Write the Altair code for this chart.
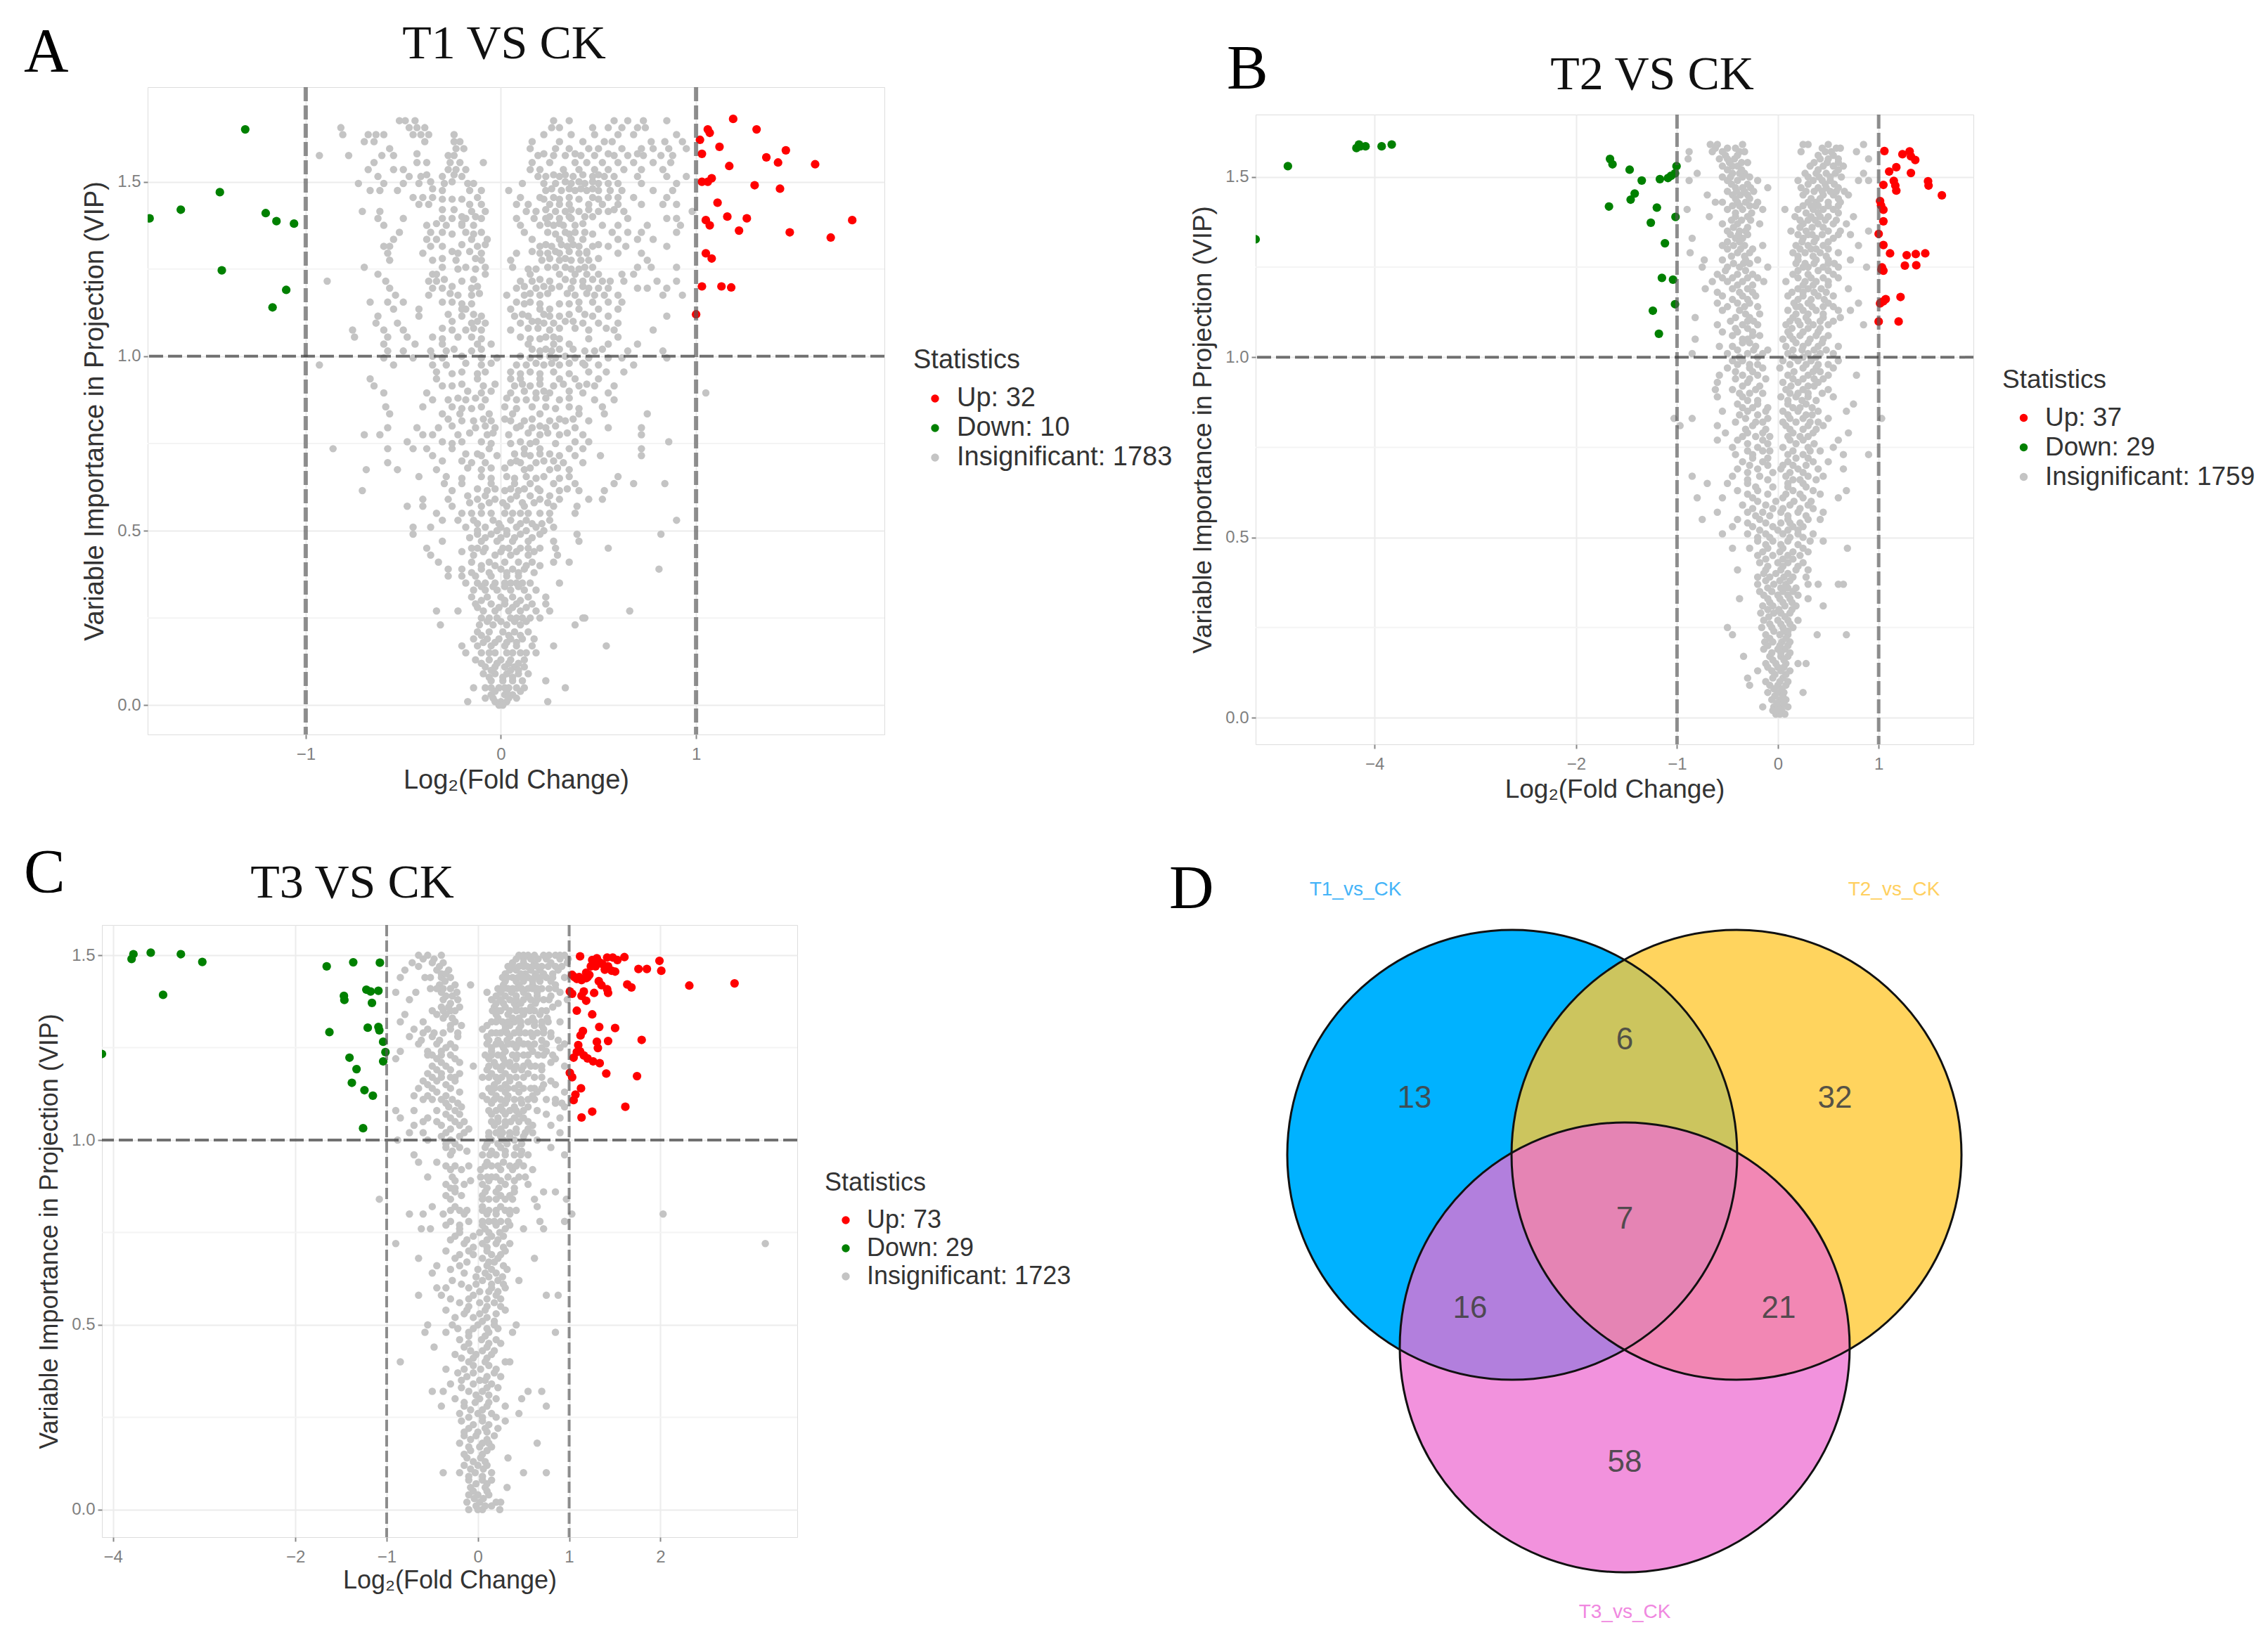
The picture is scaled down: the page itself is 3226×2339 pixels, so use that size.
import altair as alt
import pandas as pd

alt.data_transformers.disable_max_rows()

# ---------- Panel A ----------
up_a = [(1.19,1.68),(1.31,1.65),(1.02,1.62),(1.06,1.65),(1.07,1.64),(1.12,1.60),(1.46,1.59),(1.03,1.58),(1.36,1.57),(1.42,1.555),(1.61,1.55),(1.17,1.545),(1.08,1.51),(1.06,1.50),(1.03,1.50),(1.30,1.49),(1.43,1.48),(1.11,1.44),(1.16,1.40),(1.26,1.395),(1.05,1.39),(1.07,1.375),(1.80,1.39),(1.22,1.36),(1.48,1.355),(1.69,1.34),(1.05,1.295),(1.08,1.28),(1.03,1.20),(1.13,1.20),(1.18,1.197),(1.00,1.12)]
down_a = [(-1.31,1.65),(-1.44,1.47),(-1.64,1.42),(-1.80,1.395),(-1.205,1.41),(-1.15,1.387),(-1.06,1.38),(-1.43,1.246),(-1.10,1.19),(-1.17,1.14)]
gray_a = {
1.675:[-.52,-.49,-.44,.27,.35,.58,.65,.73,.85],
1.655:[-.82,-.47,-.43,-.39,.26,.3,.47,.55,.62,.7,.74],
1.635:[-.81,-.68,-.64,-.6,-.45,-.41,-.37,-.24,.22,.36,.48,.6,.68,.9],
1.615:[-.7,-.65,-.39,-.24,-.21,.16,.3,.42,.53,.57,.77,.84,.93],
1.595:[-.57,-.23,-.19,.15,.28,.35,.45,.5,.62,.72,.78,.86,.95],
1.575:[-.93,-.78,-.61,-.55,-.27,-.24,.19,.27,.33,.41,.48,.58,.65,.73,.82,.88],
1.555:[-.65,-.43,-.38,-.26,-.21,-.09,.16,.25,.38,.44,.52,.6,.68,.78,.87],
1.535:[-.68,-.55,-.5,-.27,-.23,-.18,.15,.2,.32,.4,.48,.55,.63,.72,.83],
1.515:[-.63,-.47,-.41,-.3,-.2,.19,.23,.3,.37,.47,.53,.58,.7,.85,.95],
1.495:[-.73,-.6,-.5,-.42,-.29,-.17,-.14,.11,.22,.28,.36,.43,.5,.55,.6,.72,.9],
1.475:[-.67,-.62,-.53,-.3,-.16,-.1,.04,.23,.31,.38,.44,.5,.56,.62,.78,.88],
1.455:[-.45,-.4,-.35,-.12,.1,.2,.27,.35,.47,.55,.6,.68,.85],
1.435:[-.42,-.37,-.16,-.1,.08,.14,.25,.3,.35,.45,.52,.6,.72,.83,.9],
1.415:[-.71,-.62,-.15,-.08,.13,.18,.28,.33,.4,.5,.55,.63,.98],
1.395:[-.63,-.5,-.3,-.25,-.18,-.1,.08,.17,.23,.3,.36,.65,.85,.9],
1.375:[-.6,-.38,-.28,-.2,-.14,.1,.2,.27,.32,.38,.52,.6,.75,.92],
1.355:[-.52,-.36,-.3,-.18,-.1,.12,.24,.33,.38,.43,.57,.65,.72,.9],
1.335:[-.55,-.38,-.33,-.15,-.07,.16,.3,.36,.42,.6,.7,.78],
1.315:[-.6,-.57,-.36,-.3,-.12,.2,.26,.34,.4,.47,.55,.64,.85],
1.295:[-.58,-.4,-.22,-.1,.08,.2,.24,.3,.4,.44,.6,.72],
1.275:[-.57,-.35,-.23,-.1,.05,.21,.3,.36,.41,.45,.75],
1.255:[-.7,-.3,-.18,-.08,.06,.24,.28,.33,.43,.47,.7,.77,.9],
1.235:[-.63,-.35,-.33,-.08,.15,.3,.38,.44,.5,.62,.68],
1.215:[-.89,-.59,-.37,-.33,-.2,.1,.16,.25,.37,.42,.52,.56,.63,.8,.9],
1.195:[-.57,-.35,-.3,-.15,.08,.18,.26,.36,.45,.5,.55,.7,.75,.85],
1.175:[-.54,-.37,-.22,-.15,.03,.12,.2,.38,.48,.53,.6,.83,.93],
1.155:[-.67,-.58,-.5,-.3,-.25,.08,.15,.4,.47,.55,.62],
1.135:[-.55,-.42,-.2,-.18,.05,.2,.25,.4,.5,.6],
1.115:[-.63,-.42,-.2,-.1,.07,.14,.25,.3,.47,.55,.85],
1.095:[-.64,-.53,-.15,-.08,.1,.22,.27,.42,.5,.6],
1.075:[-.76,-.6,-.5,-.25,-.18,-.1,.05,.25,.45,.58,.78],
1.055:[-.75,-.58,-.48,-.35,-.22,-.15,.1,.23,.27,.6],
1.035:[-.6,-.44,-.3,-.12,-.05,.14,.27,.35,.55,.7],
1.015:[-.58,-.5,-.36,-.28,-.15,.2,.26,.43,.48,.65,.83],
.995:[-.6,-.45,-.3,-.1,-.02,.15,.28,.38,.45,.55,.62,.85],
.975:[-.93,-.55,-.35,-.28,-.1,.08,.13,.22,.3,.43,.5,.68],
.955:[-.33,-.2,-.08,.05,.15,.27,.45,.54,.63],
.935:[-.67,-.33,-.12,.05,.1,.2,.3,.38,.5],
.915:[-.65,-.3,-.25,-.09,.07,.15,.27,.4,.48,.58],
.895:[-.6,-.38,-.1,.05,.18,.25,.42,.55,1.05],
.875:[-.35,-.27,-.18,-.08,.08,.13,.3,.48,.58],
.855:[-.59,-.4,-.25,-.1,.02,.16,.23,.35,.52],
.835:[-.57,-.3,-.21,-.06,.06,.2,.4,.53,.75],
.815:[-.2,-.14,-.05,.05,.12,.25,.33,.45],
.795:[-.58,-.43,-.32,-.13,-.03,.08,.16,.23,.38,.55,.72],
.775:[-.7,-.62,-.4,-.35,-.22,-.07,.04,.2,.3,.42,.72],
.755:[-.48,-.3,-.2,-.1,.1,.18,.38,.45,.86],
.735:[-.86,-.58,-.45,-.38,-.25,-.06,.12,.2,.35,.42,.72],
.715:[-.35,-.1,-.02,.15,.3,.38,.51,.72],
.695:[-.58,-.15,-.08,.05,.1,.18,.32,.42],
.675:[-.69,-.53,-.33,-.1,.12,.25,.35],
.655:[-.42,-.28,-.1,.03,.13,.22,.35,.6],
.635:[-.29,-.2,-.05,.07,.15,.27,.38,.58,.68,.84],
.615:[-.71,-.25,-.07,.02,.09,.2,.3,.4,.53],
.59:[-.4,-.27,-.12,-.03,.05,.2,.3,.45,.52],
.57:[-.48,-.4,-.25,-.1,.03,.12,.27,.39],
.55:[-.33,-.2,-.1,.02,.1,.2,.38],
.53:[-.3,-.22,-.14,-.04,.05,.13,.25,.9],
.51:[-.45,-.36,-.18,-.08,0,.08,.18,.27],
.49:[-.45,-.12,-.05,.03,.1,.2,.39,.82],
.47:[-.3,-.1,-.02,.06,.14,.27,.4],
.45:[-.38,-.15,-.08,.04,.1,.28,.55],
.43:[-.36,-.14,-.03,.05,.14,.29],
.41:[-.32,-.15,-.06,.02,.09,.16,.27,.35],
.39:[-.27,-.2,-.1,0,.06,.12,.81],
.37:[-.27,-.2,-.13,-.05,.03,.09],
.35:[-.18,-.12,-.03,.02,.08,.15,.3],
.33:[-.14,-.08,-.02,.05,.12,.18],
.31:[-.15,-.07,0,.06,.14,.23],
.29:[-.13,-.05,.02,.08,.16,.23],
.27:[-.33,-.22,-.09,-.03,.04,.1,.18,.25,.66],
.25:[-.1,-.02,.05,.11,.2,.42,.43],
.23:[-.31,-.11,-.04,.03,.1,.38],
.21:[-.12,-.06,.01,.07,.14],
.19:[-.14,-.07,-.01,.05,.11,.17],
.17:[-.2,-.12,-.05,.02,.08,.16,.27,.54],
.15:[-.18,-.1,-.03,.03,.1,.18],
.13:[-.13,-.06,0,.05,.12],
.11:[-.08,-.03,.02,.07,.12],
.09:[-.09,-.03,.03,.09,.14],
.07:[-.05,.01,.06,.11,.23],
.05:[-.14,-.08,-.01,.04,.12,.33],
.03:[-.05,.02,.06],
.01:[-.17,-.03,0,.03,.24],
0.0:[-.01,.01],
}
gray_a2 = {
1.5:[.33,.4,.47,-.36,-.25],
1.45:[.22,.3,.4,.5,-.3,-.25,-.2],
1.4:[.25,.35,.43,.47,-.2,-.13],
1.35:[.28,.35,.47,-.25,-.14],
1.3:[.16,.28,.35,.44,-.25,-.16],
1.25:[.14,.18,.36,.4,-.22,-.13],
1.2:[.12,.22,.3,.42,-.25,-.12],
1.15:[.12,.2,.3,.35,-.15,-.2],
1.1:[.16,.19,.33,.37,-.25,-.12],
1.05:[.15,.2,.3,.45,-.3,-.1],
1.0:[.1,.2,.25,.33,-.2,-.35],
.95:[.1,.2,.35,-.25,-.12],
.9:[.12,.22,.35,-.17,-.05],
.85:[.08,.28,.4,-.2,-.15],
.8:[.1,.2,.28,-.25,-.08],
.75:[.05,.15,.28,-.25,-.05],
.7:[.08,.22,.27,-.3,-.2],
.65:[.07,.18,.3,-.2,-.05],
.6:[.08,.15,.25,-.17,-.08],
.55:[.06,.14,.25,-.15,-.05],
.5:[.03,.13,.22,-.12,-.02],
.45:[.14,.2,-.12,.01],
.4:[.13,.2,-.1,-.03],
.35:[.11,-.08,.05],
.3:[.1,-.1,.02],
.25:[.08,-.06,.15],
.2:[.1,-.1,.04],
.15:[.06,-.06,.13],
.1:[.05,-.05,.09],
.05:[.02,.08,-.05],
.02:[-.04,.04,-.08,.08],
}
gray_a3 = {
1.58:[-.43,.22,.38,.55,.7],1.52:[-.38,-.24,.27,.33,.42,.5],1.48:[-.35,.26,.35,.41,.47],1.42:[-.3,-.24,.23,.36,.45,.58],
1.38:[-.33,-.2,.24,.3,.42],1.32:[-.2,-.08,.23,.31,.37,.5],1.28:[-.3,-.13,.25,.33,.5],1.22:[-.29,-.14,.2,.33,.47],
1.18:[-.26,-.11,.15,.24,.34,.44],1.12:[-.27,-.14,.11,.22,.35,.43],1.08:[-.3,-.14,.14,.19,.3,.38,.54],1.02:[-.24,-.1,.16,.23,.3,.37,.52],
.98:[-.18,-.05,.18,.26,.35,.42],.92:[-.2,-.03,.11,.2,.32,.44],.88:[-.22,-.13,.03,.18,.23,.35],.82:[-.27,-.09,.02,.16,.3,.37],
.78:[-.16,-.04,.14,.24,.34],.72:[-.18,-.12,.07,.12,.2,.25],.68:[-.17,-.05,.02,.15,.29],.62:[-.12,-.03,.05,.12,.19,.34],
.58:[-.16,-.06,.01,.11,.17,.24],.52:[-.12,-.01,.1,.16,.21],.48:[-.16,-.08,0,.07,.16],.44:[-.2,-.09,0,.08,.17],
.38:[-.15,-.06,.03,.09,.17],.34:[-.1,-.04,.02,.09],.28:[-.12,-.01,.06,.13],.24:[-.07,0,.07,.13],
.18:[-.09,-.03,.03,.08],.12:[-.1,-.02,.04,.09],.08:[-.06,.01,.06],.04:[-.03,.03,.1],
}

# ---------- Panel B ----------
up_b = [(1.057,1.572),(1.236,1.563),(1.307,1.571),(1.32,1.557),(1.363,1.547),(1.175,1.527),(1.104,1.515),(1.32,1.511),(1.15,1.489),(1.047,1.478),(1.165,1.476),(1.175,1.462),(1.49,1.488),(1.495,1.476),(1.627,1.449),(1.014,1.433),(1.047,1.409),(1.047,1.377),(1.0,1.342),(1.047,1.311),(1.113,1.288),(1.462,1.288),(1.368,1.286),(1.278,1.283),(1.26,1.254),(1.373,1.255),(1.033,1.249),(1.047,1.24),(1.217,1.167),(1.07,1.161),(1.047,1.155),(1.014,1.149),(1.0,1.099),(1.198,1.099),(1.019,1.151),(1.024,1.421),(1.028,1.243)]
down_b = [(-4.86,1.53),(-4.155,1.59),(-4.14,1.585),(-4.18,1.58),(-4.09,1.585),(-3.93,1.585),(-3.83,1.59),(-5.18,1.327),(-1.665,1.55),(-1.64,1.535),(-1.47,1.52),(-1.35,1.49),(-1.17,1.494),(-1.09,1.497),(-1.06,1.503),(-1.02,1.51),(-1.005,1.53),(-1.42,1.454),(-1.46,1.437),(-1.675,1.418),(-1.20,1.415),(-1.015,1.389),(-1.26,1.373),(-1.12,1.316),(-1.15,1.22),(-1.04,1.215),(-1.02,1.147),(-1.24,1.129),(-1.18,1.065)]
gray_b = {
1.59:[-.67,-.6,-.35,.25,.3,.5,.85],
1.57:[-.88,-.65,-.55,-.38,-.33,.23,.47,.53,.78],
1.55:[-.89,-.58,-.5,-.43,.42,.5,.6,.9],
1.53:[-.55,-.45,-.4,.32,.45,.55,.65],
1.51:[-.8,-.45,-.38,-.33,.27,.38,.48,.57,.85],
1.49:[-.88,-.5,-.4,-.2,.2,.35,.44,.52,.8,.9],
1.47:[-.42,-.35,-.27,-.1,.23,.4,.48,.6],
1.45:[-.7,-.45,-.37,-.3,.25,.45,.55,.7],
1.43:[-.62,-.55,-.4,-.32,-.2,.3,.38,.5,.62],
1.41:[-.9,-.5,-.35,-.15,.07,.2,.35,.45,.55],
1.39:[-.68,-.42,-.3,.17,.33,.42,.5,.75],
1.37:[-.55,-.4,-.18,.25,.4,.55,.68],
1.35:[-.5,-.38,-.32,.13,.28,.5,.62,.9],
1.33:[-.85,-.42,-.35,.25,.38,.55],
1.31:[-.55,-.44,-.33,-.15,.18,.3,.45,.8],
1.29:[-.87,-.4,-.28,.15,.27,.42,.6],
1.27:[-.73,-.55,-.32,-.2,.2,.38,.5,.72],
1.25:[-.75,-.5,-.38,-.1,.25,.3,.45,.6,.88],
1.23:[-.6,-.4,-.25,.15,.3,.55],
1.21:[-.65,-.5,-.35,-.14,.08,.27,.38,.5],
1.19:[-.72,-.45,-.3,.2,.3,.43,.7],
1.17:[-.55,-.35,-.22,.1,.25,.4,.55],
1.15:[-.6,-.4,-.28,.16,.3,.5,.8],
1.13:[-.55,-.38,.1,.25,.38,.6,.72],
1.11:[-.82,-.42,-.28,.15,.28,.45,.62],
1.09:[-.6,-.35,-.2,.08,.22,.35,.5,.85],
1.07:[-.55,-.4,-.25,.1,.25,.4],
1.05:[-.82,-.35,-.3,.05,.15,.32,.45],
1.03:[-.58,-.45,-.22,.08,.25,.4,.6],
1.01:[-.85,-.5,-.3,-.15,.1,.3,.42,.55],
.99:[-.45,-.35,.05,.2,.33,.6],
.97:[-.5,-.28,-.15,.02,.25,.38,.55],
.95:[-.58,-.35,-.2,.1,.3,.5,.78],
.93:[-.6,-.3,.05,.2,.4],
.91:[-.62,-.45,-.22,.08,.25,.5],
.89:[-.6,-.35,.03,.18,.3,.55],
.87:[-.4,-.2,.1,.28,.75],
.85:[-.55,-.3,-.12,.05,.2,.4,.68],
.83:[-1.03,-.85,-.32,-.1,.12,.25,.5,1.03],
.81:[-.97,-.6,-.25,.08,.3,.45],
.79:[-.52,-.3,-.15,.15,.35,.7],
.77:[-.6,-.4,-.15,.12,.25,.6],
.75:[-.45,-.2,.05,.3,.55],
.73:[-.42,-.25,.1,.25,.65,.9],
.71:[-.35,-.15,.1,.35,.5],
.69:[-.4,-.2,.03,.2,.4,.65],
.67:[-.85,-.45,-.18,.08,.3,.45],
.65:[-.7,-.5,-.3,.1,.25],
.63:[-.4,-.2,.15,.35,.68],
.61:[-.8,-.55,-.25,.05,.25,.6],
.59:[-.35,-.12,.12,.3],
.57:[-.6,-.3,-.15,.03,.2,.45],
.55:[-.75,-.4,-.18,.1,.3,.42],
.53:[-.45,-.25,-.05,.15,.25],
.51:[-.55,-.3,-.12,.05,.2,.35],
.49:[-.2,-.05,.1,.32,.45],
.47:[-.45,-.28,-.1,.05,.25,.69],
.45:[-.2,-.05,.1,.22],
.43:[-.18,0,.1,.25],
.41:[-.4,-.12,.03,.18,.3],
.39:[-.2,-.08,.06,.15,.28],
.37:[-.2,-.04,.08,.3,.4,.6,.65],
.35:[-.18,-.06,.05,.15],
.33:[-.38,-.1,.02,.12,.3],
.31:[-.15,-.05,.07,.18,.45],
.29:[-.17,-.04,.03,.12],
.27:[-.14,0,.1,.2],
.25:[-.5,-.16,-.06,.05,.15],
.23:[-.45,-.12,.02,.1,.39,.68],
.21:[-.13,-.05,.04,.12],
.19:[-.14,0,.07],
.17:[-.34,-.08,.03,.1],
.15:[-.12,-.02,.08,.2,.28],
.13:[-.2,-.06,.03,.12],
.11:[-.3,-.05,.05],
.09:[-.28,-.08,0,.08],
.07:[-.1,0,.06,.25],
.05:[-.06,.02,.08],
.03:[-.15,-.04,.03,.1],
.01:[-.02,.02,.07],
}
gray_b2 = {
1.58:[-.62,-.5,-.42,.44,.58,.62],
1.54:[-.48,-.36,-.3,.36,.49,.6],
1.5:[-.55,-.47,-.35,-.28,.3,.41,.52,.63],
1.46:[-.5,-.41,-.33,-.24,.28,.36,.44,.52,.58,.66],
1.42:[-.45,-.38,-.28,-.22,.25,.33,.4,.5,.6],
1.38:[-.46,-.36,-.27,.22,.3,.37,.47,.58],
1.34:[-.47,-.39,-.3,.2,.3,.34,.44,.6,.72],
1.3:[-.5,-.37,-.25,.22,.33,.38,.5],
1.26:[-.44,-.34,-.28,.18,.27,.36,.5,.56],
1.22:[-.55,-.45,-.3,-.2,.2,.33,.45,.6],
1.18:[-.6,-.38,-.25,.14,.25,.36,.48],
1.14:[-.5,-.33,-.2,.18,.22,.34,.45,.55],
1.1:[-.47,-.3,-.24,.12,.2,.3,.42,.55],
1.06:[-.45,-.25,-.18,.12,.22,.38,.5],
1.02:[-.4,-.24,-.1,.15,.24,.36,.48],
.98:[-.4,-.28,-.2,.12,.28,.4,.5],
.94:[-.42,-.28,-.12,.15,.25,.36,.45],
.9:[-.38,-.28,-.15,.12,.2,.3,.44],
.86:[-.35,-.25,-.1,.15,.22,.34],
.82:[-.42,-.22,-.15,.05,.18,.32,.4],
.78:[-.35,-.22,-.08,.1,.22,.3],
.74:[-.3,-.15,-.08,.15,.32,.42],
.7:[-.28,-.1,.05,.15,.28],
.66:[-.3,-.1,.15,.22,.38],
.62:[-.3,-.1,.08,.22,.42],
.58:[-.25,-.05,.05,.22,.35],
.54:[-.3,-.12,.03,.12,.22],
.5:[-.2,-.08,.12,.25],
.46:[-.15,.02,.15,.3],
.42:[-.1,.05,.2],
.38:[-.12,.02,.12],
.34:[-.14,0,.1,.2],
.3:[-.1,.01,.14],
.26:[-.08,.03,.12],
.22:[-.08,.08],
.18:[-.06,.03,.12],
.14:[-.1,0,.06],
.1:[-.12,.02,.1],
.06:[-.03,.05],
.02:[-.05,0,.04],
}
gray_b3 = {
1.56:[-.52,-.4,.4,.55],1.52:[-.5,-.36,.4,.6],1.48:[-.46,-.3,.3,.47,.56],1.44:[-.42,-.28,.33,.42,.6],
1.4:[-.42,-.26,.28,.4,.6],1.36:[-.44,-.3,.22,.34,.45],1.32:[-.5,-.38,.24,.36,.5],1.28:[-.46,-.33,.2,.35,.48],
1.24:[-.52,-.32,.2,.4,.5],1.2:[-.4,-.25,.25,.35,.5],1.16:[-.45,-.3,.2,.33,.46],1.12:[-.32,-.18,.18,.3,.45],
1.08:[-.42,-.3,.14,.3,.42],1.04:[-.35,-.28,.18,.3,.44],1.0:[-.38,-.2,.16,.25,.38],.96:[-.42,-.25,.16,.35,.42],
.92:[-.35,-.18,.13,.3,.36],.88:[-.3,-.2,.1,.24,.38],.84:[-.38,-.2,.1,.28,.34],.8:[-.32,-.12,.12,.25,.38],
.76:[-.3,-.1,.18,.36],.72:[-.25,-.1,.18,.3],.68:[-.3,-.05,.12,.25],.64:[-.22,-.05,.1,.28],.6:[-.2,-.02,.16,.33],
.56:[-.22,-.08,.1,.28],.52:[-.18,0,.1,.2],.48:[-.12,.03,.2],.44:[-.12,.05,.15],.4:[-.14,-.02,.1],
.36:[-.1,.03,.1,.18],.32:[-.08,.05,.14],.28:[-.09,.07],.24:[-.04,.06,.1],.2:[-.1,.02,.1],.16:[-.05,.06],
.12:[-.03,.08],.08:[-.04,.04],.04:[-.01,.06],
}

# ---------- Panel C ----------
up_c = [(1.12,1.497),(1.606,1.495),(1.478,1.494),(1.417,1.494),(1.304,1.492),(1.253,1.487),(1.315,1.483),(1.529,1.487),(1.263,1.476),(1.238,1.47),(1.366,1.476),(1.427,1.47),(1.391,1.461),(1.504,1.456),(1.99,1.485),(2.01,1.458),(1.76,1.463),(1.852,1.463),(1.187,1.453),(1.222,1.447),(1.033,1.447),(1.084,1.436),(1.136,1.433),(1.187,1.438),(1.325,1.43),(1.355,1.419),(1.637,1.421),(1.683,1.413),(2.317,1.418),(2.813,1.424),(1.417,1.408),(1.427,1.398),(1.274,1.398),(1.161,1.402),(1.033,1.396),(1.136,1.39),(1.187,1.377),(1.084,1.35),(1.253,1.34),(1.33,1.306),(1.504,1.303),(1.151,1.295),(1.125,1.283),(1.795,1.271),(1.427,1.268),(1.304,1.266),(1.315,1.249),(1.1,1.257),(1.084,1.238),(1.12,1.24),(1.049,1.223),(1.161,1.229),(1.202,1.221),(1.263,1.213),(1.335,1.208),(1.407,1.18),(1.744,1.173),(1.008,1.182),(1.033,1.17),(1.13,1.14),(1.069,1.123),(1.049,1.108),(1.253,1.077),(1.136,1.061),(1.616,1.09),(1.34,1.48),(1.289,1.47),(1.059,1.441),(1.008,1.402),(1.11,1.441),(1.468,1.458),(1.289,1.483),(1.202,1.441)]
down_c = [(-3.775,1.503),(-3.795,1.49),(-3.585,1.507),(-3.255,1.503),(-3.02,1.482),(-3.45,1.393),(-4.12,1.233),(-1.657,1.47),(-1.366,1.481),(-1.074,1.48),(-1.222,1.407),(-1.176,1.402),(-1.09,1.404),(-1.468,1.39),(-1.463,1.379),(-1.161,1.371),(-1.207,1.304),(-1.09,1.306),(-1.08,1.297),(-1.627,1.292),(-1.038,1.266),(-1.013,1.238),(-1.038,1.213),(-1.407,1.223),(-1.33,1.192),(-1.381,1.155),(-1.243,1.135),(-1.151,1.12),(-1.258,1.032)]
gray_c = {
1.5:[-.65,-.55,-.4,.45,.55,.72,.85,.95],
1.48:[-.72,-.5,-.38,.38,.5,.62,.8,.98],
1.46:[-.8,-.45,-.32,.35,.42,.58,.68,.88],
1.44:[-.85,-.4,-.3,.27,.38,.55,.75,.95],
1.42:[-.42,-.25,-.08,.28,.45,.6,.85],
1.40:[-.9,-.68,-.4,-.23,.1,.25,.37,.5,.65,.9],
1.38:[-.75,-.38,-.22,.15,.35,.5,.72,.98],
1.36:[-.4,-.32,-.2,.18,.3,.42,.58,.82],
1.34:[-.8,-.45,-.35,.2,.33,.5,.68],
1.32:[-.85,-.6,-.25,.15,.27,.4,.55,.9],
1.30:[-.7,-.55,-.3,.05,.3,.45,.72],
1.28:[-.75,-.5,-.22,.1,.35,.6,.8],
1.26:[-.65,-.45,-.3,.2,.38,.5,.95],
1.24:[-.85,-.55,-.4,.15,.3,.6,.75],
1.22:[-.9,-.45,-.25,.12,.28,.42,.85],
1.20:[-.5,-.35,-.05,.2,.35,.5,.7,.95],
1.18:[-.55,-.4,-.2,.15,.3,.55],
1.16:[-.6,-.45,-.25,.22,.35,.8],
1.14:[-.65,-.5,-.3,.25,.4,.5,.7],
1.12:[-.7,-.55,-.35,.05,.2,.33,.6],
1.10:[-.35,-.22,.15,.3,.48,.85,.92],
1.08:[-.9,-.7,-.45,-.25,.2,.35,.65],
1.06:[-.85,-.55,-.3,.22,.4,.5,.9],
1.04:[-.7,-.4,-.2,.18,.3,.6,.8],
1.02:[-.75,-.6,-.35,-.15,.2,.35,.52,.9],
1.0:[-.88,-.55,-.3,.15,.28,.4,.65],
.98:[-.35,-.2,.08,.25,.42,.8],
.96:[-.7,-.3,.05,.2,.4,.55,.95],
.94:[-.65,-.45,.1,.28,.45],
.92:[-.3,-.18,.03,.25,.38,.6],
.90:[-.55,-.28,.1,.2,.45],
.88:[-.35,-.15,.05,.3,.55],
.86:[-.25,.08,.2,.4,.72,.85],
.84:[-1.08,-.3,.12,.3,.62,.97],
.82:[-.5,-.25,.05,.25,.65],
.80:[-.75,-.6,-.38,-.15,.1,.2,.35,1.03,2.03],
.78:[-.3,-.1,.12,.25,.68,.95],
.76:[-.62,-.52,-.2,.08,.3,.5,.72],
.74:[-.25,-.05,.15,.28],
.72:[-.9,-.15,.05,.2,.35,3.15],
.70:[-.35,-.1,.1,.3],
.68:[-.65,-.25,.05,.22,.62],
.66:[-.45,-.2,.1,.28],
.64:[-.5,-.15,.08,.2],
.62:[-.28,.05,.22,.45],
.60:[-.45,-.35,-.1,.15,.3],
.58:[-.65,-.4,-.05,.2,.75,.88],
.56:[-.2,.02,.18],
.54:[-.35,-.12,.08,.3],
.52:[-.25,-.05,.1],
.50:[-.55,-.28,0,.18,.42],
.48:[-.58,-.35,-.1,.12,.38,.85],
.46:[-.2,.04,.2],
.44:[-.48,-.15,.1],
.42:[-.25,-.02,.15],
.40:[-.85,-.1,.08,.3,.35],
.38:[-.35,-.15,.03,.2],
.36:[-.12,.1,.25],
.34:[-.3,-.05,.15],
.32:[-.5,-.38,-.1,.05,.55,.7],
.30:[-.25,.02,.2,.48],
.28:[-.4,-.15,.1,.3,.75],
.26:[-.2,0,.15,.45],
.24:[-.18,.05,.3],
.22:[-.1,.08,.22],
.20:[-.15,-.02,.18],
.18:[-.2,.05,.12,.65],
.16:[-.08,.1],
.14:[-.12,.03,.33],
.12:[-.15,0,.1],
.10:[-.38,-.2,-.03,.15,.5,.75],
.08:[-.1,.05,.15],
.06:[-.08,.08,.32],
.04:[-.1,0,.12],
.02:[-.12,.02,.2,.25],
0.0:[-.1,0,.05,.24],
}
gray_c2 = {
1.49:[-.6,-.48,.42,.5,.58,.66,.75,.9,.99],
1.47:[-.65,-.42,.33,.45,.54,.65,.77,.92],
1.45:[-.4,-.35,.3,.47,.52,.63,.72,.82],
1.43:[-.36,.3,.42,.5,.6,.68,.8],
1.41:[-.45,-.3,.22,.33,.42,.55,.7,.78],
1.39:[-.35,-.28,.2,.3,.42,.55,.65,.8],
1.37:[-.3,.2,.28,.4,.47,.63,.88],
1.35:[-.38,-.25,.16,.25,.35,.52,.62,.75],
1.33:[-.38,-.28,.22,.38,.45,.6,.76],
1.31:[-.3,-.18,.1,.3,.35,.47,.62,.7],
1.29:[-.6,-.22,.15,.25,.4,.52,.65],
1.27:[-.62,-.42,.12,.22,.32,.45,.7,.88],
1.25:[-.35,-.25,.15,.28,.42,.58,.7,.9],
1.23:[-.5,-.3,.08,.22,.38,.5,.66],
1.21:[-.4,-.2,.18,.3,.35,.55,.8],
1.19:[-.45,-.3,.1,.25,.4,.48,.7],
1.17:[-.5,-.25,.05,.2,.42,.62],
1.15:[-.55,-.35,.18,.3,.45,.72,.85],
1.13:[-.45,-.2,.15,.3,.45,.65,.95],
1.11:[-.6,-.28,.1,.25,.4,.55,.75],
1.09:[-.32,-.18,.25,.4,.55,.95],
1.07:[-.35,-.2,.15,.3,.45,.75],
1.05:[-.6,-.25,.15,.3,.45],
1.03:[-.3,-.1,.25,.42,.55],
1.01:[-.4,-.2,.12,.25,.35,.5],
.97:[-.28,-.12,.15,.3,.48],
.93:[-.35,-.1,.15,.35,.5],
.89:[-.25,-.08,.12,.25,.4],
.85:[-.35,-.18,.05,.25,.35],
.81:[-.3,-.12,.12,.3,.42],
.77:[-.35,-.2,.05,.2,.35],
.73:[-.3,-.12,.1,.22],
.69:[-.2,-.05,.15,.25],
.65:[-.3,0,.15,.32],
.61:[-.18,-.02,.15,.28],
.57:[-.3,-.1,.1,.25],
.53:[-.15,.02,.2],
.49:[-.22,-.05,.1,.22],
.45:[-.1,.12,.25],
.41:[-.18,-.05,.1],
.37:[-.22,-.05,.18],
.33:[-.18,.1,.22],
.29:[-.15,-.03,.12],
.25:[-.1,.05,.2],
.21:[-.15,0,.1],
.17:[-.1,.02,.15],
.13:[-.05,.08],
.09:[-.1,.05],
.05:[-.05,.1],
.01:[-.02,.08,.15],
}
gray_c3 = {
1.5:[.5,.62,.78,.9],1.47:[.38,.5,.6,.7,.85],1.44:[-.58,-.52,.32,.44,.5,.62,.68,.82],1.41:[-.52,-.38,.28,.38,.48,.6,.65,.85],
1.38:[.25,.42,.58,.65,.78],1.35:[-.5,-.3,.22,.42,.48,.57,.7],1.32:[.2,.33,.47,.62,.7,.77],1.29:[-.48,-.38,.2,.32,.46,.58,.72,.8],
1.26:[.1,.25,.33,.44,.55,.62,.75],1.23:[-.55,-.4,.15,.27,.43,.55,.72,.82],1.2:[.12,.27,.42,.58,.63],1.17:[-.4,-.3,.12,.26,.35,.5,.7],
1.14:[.12,.18,.33,.58,.62],1.11:[-.5,-.4,.18,.32,.47,.62,.85],1.08:[.12,.27,.42,.5],1.05:[-.45,-.15,.22,.36,.55],
1.02:[.12,.27,.42,.6],.99:[-.35,-.25,.1,.22,.32,.48],.96:[.13,.3,.47],.93:[-.25,.08,.22,.42],.9:[.03,.15,.33,.52],
.87:[-.3,-.25,.1,.23,.4],.84:[.05,.2,.38],.81:[-.2,.05,.2,.35],.78:[.05,.18,.33],.75:[-.2,.02,.12,.24],.71:[-.05,.1,.28],
.67:[-.12,.12,.18],.63:[-.02,.12,.27],.59:[.02,.12,.22],.55:[-.1,.1,.25],.51:[.05,.18],.47:[-.1,.08],.43:[-.08,.05,.18],
.39:[-.05,.12],.35:[-.18,.02,.08],.31:[-.02,.12],.27:[-.08,.05],.23:[-.05,.12],.19:[-.08,.1],.15:[-.15,.05],.11:[-.08,.06],
.07:[-.02,.1],.03:[-.04,.06],
}

# ---------- Panel D ----------
venn_x = [491, 810, 651]
venn_y = [327, 327, 601]
venn_fill = ["#00B2FF", "#FFC936", "#EE6ED2"]
venn_alpha = [1.0, 0.8, 0.75]
count_text = ["13", "6", "32", "7", "16", "21", "58"]
count_x = [352, 651, 950, 651, 431, 870, 651]
count_y = [247, 164, 247, 419, 546, 546, 765]
set_text = ["T1_vs_CK", "T2_vs_CK", "T3_vs_CK"]
set_x = [268, 1034, 651]
set_y = [-50, -50, 978]
set_color = ["#45B4F8", "#FFD060", "#F088E0"]

minor_y = [0.25, 0.75, 1.25]
y_ticks = [0, 0.5, 1, 1.5]
SANS = "Liberation Sans"
SERIF = "Liberation Serif"


def frame(up, down, grays, names):
    rows = []
    for gray in grays:
        for y, xs in gray.items():
            rows += [{"fc": x, "vip": y, "group": names[2]} for x in xs]
    gray_df = pd.DataFrame(rows)
    col_df = pd.DataFrame(
        [{"fc": a, "vip": b, "group": names[1]} for a, b in down]
        + [{"fc": a, "vip": b, "group": names[0]} for a, b in up]
    )
    return gray_df, col_df


def text_mark(t, font, size, x, y, color="black", align="left", opacity=1.0, baseline="alphabetic"):
    return (
        alt.Chart(pd.DataFrame({"t": [t]}))
        .mark_text(font=font, fontSize=size, align=align, baseline=baseline, color=color, opacity=opacity)
        .encode(x=alt.value(x), y=alt.value(y), text="t:N")
    )


def panel(up, down, grays, names, xdom, ydom, xticks, w, h, fs, vw, dash, letter, lx, ly, title, tx, ty, legx, legy, titlepad=6):
    gray_df, col_df = frame(up, down, grays, names)
    xs = alt.X("fc:Q", scale=alt.Scale(domain=xdom, nice=False, zero=False),
               axis=alt.Axis(values=xticks, title="Log₂(Fold Change)", format="d", grid=True, gridColor="#ececec",
                             gridWidth=2, domain=False, tickColor="#888888", tickWidth=2, tickSize=6,
                             labelColor="#7f7f7f", labelFontSize=24, labelFont=SANS, labelPadding=10,
                             titleFont=SANS, titleFontSize=fs, titleFontWeight="normal", titleColor="#333333",
                             titlePadding=titlepad))
    ys = alt.Y("vip:Q", scale=alt.Scale(domain=ydom, nice=False, zero=False),
               axis=alt.Axis(values=y_ticks, title="Variable Importance in Projection (VIP)", format=".1f", grid=True,
                             gridColor="#ececec", gridWidth=2, domain=False, tickColor="#888888", tickWidth=2, tickSize=6,
                             labelColor="#7f7f7f", labelFontSize=24, labelFont=SANS, labelPadding=4,
                             titleFont=SANS, titleFontSize=fs, titleFontWeight="normal", titleColor="#333333",
                             titlePadding=12))
    color = alt.Color("group:N", scale=alt.Scale(domain=names, range=["#ff0000", "#008000", "#c4c4c4"]),
                      legend=alt.Legend(title="Statistics", orient="none", legendX=legx, legendY=legy, padding=0,
                                        titleFont=SANS, titleFontSize=fs, titleFontWeight="normal", titleColor="#333333",
                                        titlePadding=16, labelFont=SANS, labelFontSize=fs, labelColor="#333333",
                                        labelOffset=12, labelLimit=600, symbolSize=130, symbolOffset=12, rowPadding=4,
                                        symbolType="circle"))
    minor = alt.Chart(pd.DataFrame({"m": minor_y})).mark_rule(color="#f4f4f4", strokeWidth=2).encode(y=alt.Y("m:Q", scale=alt.Scale(domain=ydom, nice=False, zero=False)))
    g = alt.Chart(gray_df).mark_circle(size=110, opacity=1, clip=True).encode(x=xs, y=ys, color=color)
    c = alt.Chart(col_df).mark_circle(size=150, opacity=1, clip=True).encode(x=xs, y=ys, color=color)
    v = alt.Chart(pd.DataFrame({"v": [-1, 1]})).mark_rule(color="#555555", opacity=0.65, strokeWidth=vw, strokeDash=dash).encode(x="v:Q")
    hl = alt.Chart(pd.DataFrame({"h": [1]})).mark_rule(color="#444444", opacity=0.75, strokeWidth=4, strokeDash=[20, 7]).encode(y="h:Q")
    parts = [minor, g, c, v, hl,
             text_mark(letter, SERIF, 88, lx, ly),
             text_mark(title, SERIF, 68, tx, ty, align="center", color="#111111")]
    return alt.layer(*parts).properties(width=w, height=h)


A = panel(up_a, down_a, [gray_a, gray_a2, gray_a3], ["Up: 32", "Down: 10", "Insignificant: 1783"], [-1.81, 1.965], [-0.084, 1.771], [-1, 0, 1],
          1048, 921, 38, 6, [20, 6], "A", -176, -23, "T1 VS CK", 507, -41, 1089, 370)
B = panel(up_b, down_b, [gray_b, gray_b2, gray_b3], ["Up: 37", "Down: 29", "Insignificant: 1759"], [-5.18, 1.94], [-0.074, 1.673], [-4, -2, -1, 0, 1],
          1021, 896, 37, 5, [20, 6], "B", -41, -38, "T2 VS CK", 564, -36, 1062, 360)
C = panel(up_c, down_c, [gray_c, gray_c2, gray_c3], ["Up: 73", "Down: 29", "Insignificant: 1723"], [-4.12, 3.5], [-0.0745, 1.582], [-4, -2, -1, 0, 1, 2],
          989, 871, 36, 4, [16, 6], "C", -111, -47, "T3 VS CK", 356, -39, 1028, 350, titlepad=4)

dx = alt.X("x:Q", scale=alt.Scale(domain=[0, 1240], nice=False, zero=False), axis=None)
dy = alt.Y("y:Q", scale=alt.Scale(domain=[871, 0], nice=False, zero=False), axis=None)
venn_df = pd.DataFrame({"x": venn_x, "y": venn_y})
venn_layers = []
for i in range(3):
    venn_layers.append(
        alt.Chart(venn_df.iloc[[i]])
        .mark_circle(fill=venn_fill[i], fillOpacity=venn_alpha[i], opacity=1)
        .encode(x=dx, y=dy, size=alt.value(409600))
    )
rings = alt.Chart(venn_df).mark_point(filled=False, shape="circle", stroke="#111111", strokeWidth=3, opacity=1).encode(
    x=dx, y=dy, size=alt.value(409600))
counts = alt.Chart(pd.DataFrame({"x": count_x, "y": count_y, "t": count_text})).mark_text(
    font=SANS, fontSize=44, color="#444444", opacity=0.9, baseline="middle").encode(x=dx, y=dy, text="t:N")
sets = alt.Chart(pd.DataFrame({"x": set_x, "y": set_y, "t": set_text, "c": set_color})).mark_text(
    font=SANS, fontSize=28, baseline="middle").encode(x=dx, y=dy, text="t:N", color=alt.Color("c:N", scale=None))
D = alt.layer(*venn_layers, rings, counts, sets, text_mark("D", SERIF, 88, 3, -24)).properties(
    width=1240, height=871, view=alt.ViewConfig(stroke=None))


def gap(w, h):
    return (alt.Chart(pd.DataFrame({"a": [0]})).mark_text(text="", opacity=0)
            .encode(x=alt.value(0), y=alt.value(0))
            .properties(width=w, height=h, view=alt.ViewConfig(stroke=None)))


def ind(c):
    return c.resolve_scale(color="independent", x="independent", y="independent")


def H(*charts, spacing=0):
    return ind(alt.concat(*charts, columns=len(charts), spacing=spacing, align="none", bounds="full"))


def V(*charts, spacing=0):
    return ind(alt.concat(*charts, columns=1, spacing=spacing, align="none", bounds="full"))


row1 = H(gap(1, 1), H(V(gap(1, 1), A), V(gap(1, 31), B), spacing=23))
row2 = H(gap(1, 1), H(C, D, spacing=135))
chart = (
    V(row1, row2, spacing=56)
    .properties(padding={"left": 24, "top": 9, "right": 0, "bottom": 0})
    .configure_view(stroke="#d4d4d4", strokeWidth=6)
    .configure(background="white")
)
chart.save("out.html", embed_options={"renderer": "svg", "actions": False})
